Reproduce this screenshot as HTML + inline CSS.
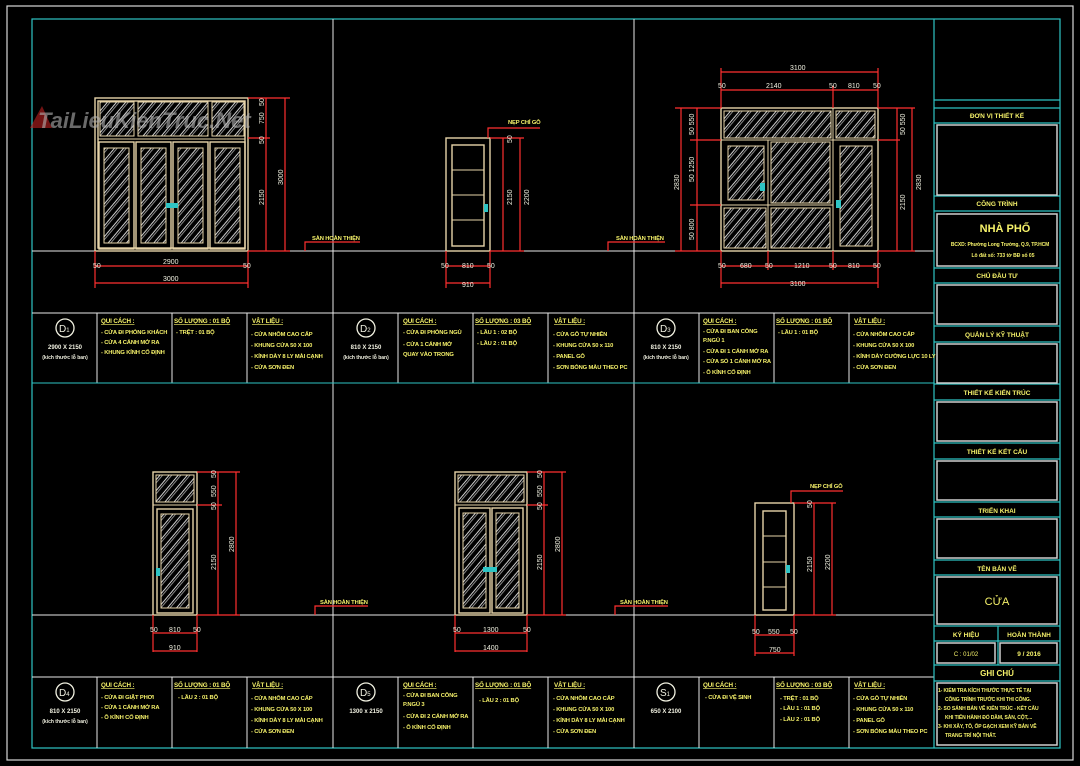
<!DOCTYPE html>
<html><head><meta charset="utf-8"><style>
html,body{margin:0;padding:0;background:#000;}
svg{display:block}
text{font-family:"Liberation Sans",sans-serif;}
.y{fill:#f6f26a;font-size:5.8px;font-weight:bold;letter-spacing:-0.15px}
.h{fill:#f6f26a;font-size:6.3px;font-weight:bold;text-decoration:underline;letter-spacing:-0.15px}
.w{fill:#f0f0e0;font-size:6px;font-weight:bold}
.d{fill:#f0f0e0;font-size:7px}
.t{fill:#f6f26a;font-size:6.5px;font-weight:bold;text-anchor:middle}
.fr{fill:none;stroke:#e6d3a8;stroke-width:1.4}
.g{fill:url(#hat);stroke:#e6d3a8;stroke-width:1}
.r{stroke:#ff3030;stroke-width:1.2;fill:none}
.c{stroke:#2ec4c4;stroke-width:1.2;fill:none}
.b{stroke:#cfcfcf;stroke-width:1.5;fill:none}
</style></head><body>
<svg width="1080" height="766" viewBox="0 0 1080 766" xmlns="http://www.w3.org/2000/svg">
<defs>
<pattern id="hat" width="7" height="7" patternUnits="userSpaceOnUse" patternTransform="rotate(40)">
<rect width="7" height="7" fill="#000"/><line x1="1" y1="0" x2="1" y2="7" stroke="#e8e8e8" stroke-width="0.9"/><line x1="3" y1="0" x2="3" y2="7" stroke="#e8e8e8" stroke-width="0.6"/>
</pattern>
</defs>
<rect width="1080" height="766" fill="#000"/>
<rect x="7" y="6" width="1066" height="754" fill="none" stroke="#d8d8d8" stroke-width="1.2"/>
<rect x="32" y="19" width="1028" height="729" fill="none" stroke="#2ec4c4" stroke-width="1.2"/>
<!-- grid -->
<g stroke="#e8e8e8" stroke-width="1">
<line x1="333" y1="19" x2="333" y2="748"/><line x1="634" y1="19" x2="634" y2="748"/>
<line x1="32" y1="251" x2="934" y2="251"/><line x1="32" y1="615" x2="934" y2="615"/>
<line x1="32" y1="313" x2="934" y2="313"/><line x1="32" y1="383" x2="934" y2="383"/>
<line x1="32" y1="677" x2="934" y2="677"/>
<line x1="97" y1="313" x2="97" y2="383"/><line x1="172" y1="313" x2="172" y2="383"/><line x1="247" y1="313" x2="247" y2="383"/>
<line x1="398" y1="313" x2="398" y2="383"/><line x1="473" y1="313" x2="473" y2="383"/><line x1="548" y1="313" x2="548" y2="383"/>
<line x1="699" y1="313" x2="699" y2="383"/><line x1="774" y1="313" x2="774" y2="383"/><line x1="849" y1="313" x2="849" y2="383"/>
<line x1="97" y1="677" x2="97" y2="748"/><line x1="172" y1="677" x2="172" y2="748"/><line x1="247" y1="677" x2="247" y2="748"/>
<line x1="398" y1="677" x2="398" y2="748"/><line x1="473" y1="677" x2="473" y2="748"/><line x1="548" y1="677" x2="548" y2="748"/>
<line x1="699" y1="677" x2="699" y2="748"/><line x1="774" y1="677" x2="774" y2="748"/><line x1="849" y1="677" x2="849" y2="748"/>
</g>
<line x1="934" y1="19" x2="934" y2="748" class="c"/>
<line x1="32" y1="383" x2="934" y2="383" stroke="#2ec4c4"/>

<!-- ===== D1 ===== -->
<rect x="95" y="98" width="153" height="153" class="fr"/>
<rect x="98" y="101" width="147" height="147" class="fr" stroke-width="0.8"/>
<rect x="100" y="102" width="34" height="34" class="g"/>
<rect x="138" y="102" width="70" height="34" class="g"/>
<rect x="212" y="102" width="32" height="34" class="g"/>
<line x1="98" y1="139" x2="245" y2="139" stroke="#e6d3a8"/>
<rect x="99" y="142" width="35" height="107" class="fr" stroke-width="1"/>
<rect x="136" y="142" width="35" height="107" class="fr" stroke-width="1"/>
<rect x="173" y="142" width="35" height="107" class="fr" stroke-width="1"/>
<rect x="210" y="142" width="35" height="107" class="fr" stroke-width="1"/>
<rect x="104" y="148" width="25" height="95" class="g"/>
<rect x="141" y="148" width="25" height="95" class="g"/>
<rect x="178" y="148" width="25" height="95" class="g"/>
<rect x="215" y="148" width="25" height="95" class="g"/>
<rect x="166" y="203" width="12" height="5" fill="#2ec4c4"/>
<g class="r">
<line x1="248" y1="98" x2="290" y2="98"/><line x1="248" y1="138" x2="270" y2="138"/><line x1="248" y1="251" x2="290" y2="251"/>
<line x1="266" y1="98" x2="266" y2="251"/><line x1="285" y1="98" x2="285" y2="251"/>
<line x1="95" y1="251" x2="95" y2="288"/><line x1="248" y1="251" x2="248" y2="288"/>
<line x1="95" y1="266" x2="248" y2="266"/><line x1="95" y1="283" x2="248" y2="283"/>
</g>
<text class="d" transform="translate(264 106) rotate(-90)">50</text>
<text class="d" transform="translate(264 124) rotate(-90)">750</text>
<text class="d" transform="translate(264 144) rotate(-90)">50</text>
<text class="d" transform="translate(264 205) rotate(-90)">2150</text>
<text class="d" transform="translate(283 185) rotate(-90)">3000</text>
<text class="d" x="93" y="268">50</text><text class="d" x="163" y="264">2900</text><text class="d" x="243" y="268">50</text>
<text class="d" x="163" y="281">3000</text>
<polyline points="305,251 305,242 360,242" class="r"/>
<text class="y" x="312" y="240">SÀN HOÀN THIỆN</text>

<!-- ===== D2 ===== -->
<rect x="446" y="138" width="44" height="113" class="fr"/>
<rect x="452" y="145" width="32" height="101" class="fr" stroke-width="1.2"/>
<line x1="452" y1="170" x2="484" y2="170" stroke="#e6d3a8"/><line x1="452" y1="195" x2="484" y2="195" stroke="#e6d3a8"/><line x1="452" y1="220" x2="484" y2="220" stroke="#e6d3a8"/>
<rect x="484" y="204" width="4" height="8" fill="#2ec4c4"/>
<g class="r">
<polyline points="488,138 488,128 540,128"/>
<line x1="490" y1="138" x2="524" y2="138"/><line x1="490" y1="251" x2="524" y2="251"/>
<line x1="503" y1="138" x2="503" y2="251"/><line x1="520" y1="138" x2="520" y2="251"/>
<line x1="446" y1="251" x2="446" y2="288"/><line x1="490" y1="251" x2="490" y2="288"/>
<line x1="446" y1="266" x2="490" y2="266"/><line x1="446" y1="283" x2="490" y2="283"/>
</g>
<text class="y" x="508" y="124">NẸP CHỈ GỖ</text>
<text class="d" transform="translate(512 143) rotate(-90)">50</text>
<text class="d" transform="translate(512 205) rotate(-90)">2150</text>
<text class="d" transform="translate(529 205) rotate(-90)">2200</text>
<text class="d" x="441" y="268">50</text><text class="d" x="462" y="268">810</text><text class="d" x="487" y="268">50</text>
<text class="d" x="462" y="287">910</text>
<polyline points="608,251 608,242 665,242" class="r"/>
<text class="y" x="616" y="240">SÀN HOÀN THIỆN</text>

<!-- ===== D3 ===== -->
<rect x="721" y="108" width="157" height="143" class="fr"/>
<rect x="724" y="111" width="107" height="27" class="g"/>
<rect x="836" y="111" width="39" height="27" class="g"/>
<line x1="833" y1="108" x2="833" y2="140" stroke="#e6d3a8"/>
<line x1="721" y1="140" x2="878" y2="140" stroke="#e6d3a8"/>
<line x1="768" y1="140" x2="768" y2="251" stroke="#e6d3a8"/><line x1="833" y1="140" x2="833" y2="251" stroke="#e6d3a8"/>
<line x1="721" y1="205" x2="833" y2="205" stroke="#e6d3a8"/>
<rect x="728" y="146" width="36" height="54" class="g"/>
<rect x="771" y="142" width="59" height="61" class="g"/>
<rect x="724" y="208" width="42" height="40" class="g"/>
<rect x="771" y="208" width="59" height="40" class="g"/>
<rect x="840" y="146" width="32" height="100" class="g"/>
<rect x="760" y="183" width="5" height="8" fill="#2ec4c4"/><rect x="836" y="200" width="5" height="8" fill="#2ec4c4"/>
<g class="r">
<line x1="721" y1="72" x2="878" y2="72"/><line x1="721" y1="90" x2="878" y2="90"/>
<line x1="721" y1="68" x2="721" y2="108"/><line x1="878" y1="68" x2="878" y2="108"/><line x1="833" y1="86" x2="833" y2="108"/>
<line x1="675" y1="108" x2="721" y2="108"/><line x1="690" y1="140" x2="721" y2="140"/><line x1="690" y1="205" x2="721" y2="205"/><line x1="675" y1="251" x2="721" y2="251"/>
<line x1="681" y1="108" x2="681" y2="251"/><line x1="697" y1="108" x2="697" y2="251"/>
<line x1="878" y1="108" x2="915" y2="108"/><line x1="878" y1="140" x2="900" y2="140"/><line x1="878" y1="251" x2="915" y2="251"/>
<line x1="897" y1="108" x2="897" y2="251"/><line x1="912" y1="108" x2="912" y2="251"/>
<line x1="721" y1="251" x2="721" y2="288"/><line x1="768" y1="251" x2="768" y2="270"/><line x1="833" y1="251" x2="833" y2="270"/><line x1="878" y1="251" x2="878" y2="288"/>
<line x1="721" y1="266" x2="878" y2="266"/><line x1="721" y1="283" x2="878" y2="283"/>
</g>
<text class="d" x="790" y="70">3100</text>
<text class="d" x="718" y="88">50</text><text class="d" x="766" y="88">2140</text><text class="d" x="829" y="88">50</text><text class="d" x="848" y="88">810</text><text class="d" x="873" y="88">50</text>
<text class="d" x="718" y="268">50</text><text class="d" x="740" y="268">680</text><text class="d" x="765" y="268">50</text><text class="d" x="794" y="268">1210</text><text class="d" x="829" y="268">50</text><text class="d" x="848" y="268">810</text><text class="d" x="873" y="268">50</text>
<text class="d" x="790" y="286">3100</text>
<text class="d" transform="translate(679 190) rotate(-90)">2830</text>
<text class="d" transform="translate(694 135) rotate(-90)">50 550</text>
<text class="d" transform="translate(694 182) rotate(-90)">50 1250</text>
<text class="d" transform="translate(694 240) rotate(-90)">50 800</text>
<text class="d" transform="translate(905 135) rotate(-90)">50 550</text>
<text class="d" transform="translate(905 210) rotate(-90)">2150</text>
<text class="d" transform="translate(921 190) rotate(-90)">2830</text>

<!-- ===== D4 ===== -->
<rect x="153" y="472" width="44" height="143" class="fr"/>
<rect x="156" y="475" width="38" height="27" class="g"/>
<line x1="153" y1="505" x2="197" y2="505" stroke="#e6d3a8"/>
<rect x="157" y="509" width="36" height="104" class="fr" stroke-width="1"/>
<rect x="161" y="514" width="28" height="94" class="g"/>
<rect x="156" y="568" width="4" height="8" fill="#2ec4c4"/>
<g class="r">
<line x1="197" y1="472" x2="240" y2="472"/><line x1="197" y1="505" x2="222" y2="505"/><line x1="197" y1="615" x2="240" y2="615"/>
<line x1="218" y1="472" x2="218" y2="615"/><line x1="236" y1="472" x2="236" y2="615"/>
<line x1="153" y1="615" x2="153" y2="652"/><line x1="197" y1="615" x2="197" y2="652"/>
<line x1="153" y1="633" x2="197" y2="633"/><line x1="153" y1="651" x2="197" y2="651"/>
</g>
<text class="d" transform="translate(216 478) rotate(-90)">50</text>
<text class="d" transform="translate(216 497) rotate(-90)">550</text>
<text class="d" transform="translate(216 510) rotate(-90)">50</text>
<text class="d" transform="translate(216 570) rotate(-90)">2150</text>
<text class="d" transform="translate(234 552) rotate(-90)">2800</text>
<text class="d" x="150" y="632">50</text><text class="d" x="169" y="632">810</text><text class="d" x="193" y="632">50</text>
<text class="d" x="169" y="650">910</text>
<polyline points="315,615 315,606 368,606" class="r"/>
<text class="y" x="320" y="604">SÀN HOÀN THIỆN</text>

<!-- ===== D5 ===== -->
<rect x="455" y="472" width="72" height="143" class="fr"/>
<rect x="458" y="475" width="66" height="27" class="g"/>
<line x1="455" y1="505" x2="527" y2="505" stroke="#e6d3a8"/>
<rect x="459" y="508" width="31" height="105" class="fr" stroke-width="1"/>
<rect x="492" y="508" width="31" height="105" class="fr" stroke-width="1"/>
<rect x="463" y="513" width="23" height="95" class="g"/>
<rect x="496" y="513" width="23" height="95" class="g"/>
<rect x="483" y="567" width="14" height="5" fill="#2ec4c4"/>
<g class="r">
<line x1="527" y1="472" x2="566" y2="472"/><line x1="527" y1="505" x2="548" y2="505"/><line x1="527" y1="615" x2="566" y2="615"/>
<line x1="544" y1="472" x2="544" y2="615"/><line x1="562" y1="472" x2="562" y2="615"/>
<line x1="455" y1="615" x2="455" y2="652"/><line x1="527" y1="615" x2="527" y2="652"/>
<line x1="455" y1="633" x2="527" y2="633"/><line x1="455" y1="651" x2="527" y2="651"/>
</g>
<text class="d" transform="translate(542 478) rotate(-90)">50</text>
<text class="d" transform="translate(542 497) rotate(-90)">550</text>
<text class="d" transform="translate(542 510) rotate(-90)">50</text>
<text class="d" transform="translate(542 570) rotate(-90)">2150</text>
<text class="d" transform="translate(560 552) rotate(-90)">2800</text>
<text class="d" x="453" y="632">50</text><text class="d" x="483" y="632">1300</text><text class="d" x="523" y="632">50</text>
<text class="d" x="483" y="650">1400</text>
<polyline points="615,615 615,606 668,606" class="r"/>
<text class="y" x="620" y="604">SÀN HOÀN THIỆN</text>

<!-- ===== S1 ===== -->
<rect x="755" y="503" width="39" height="112" class="fr"/>
<rect x="763" y="511" width="23" height="99" class="fr" stroke-width="1.2"/>
<line x1="763" y1="536" x2="786" y2="536" stroke="#e6d3a8"/><line x1="763" y1="562" x2="786" y2="562" stroke="#e6d3a8"/><line x1="763" y1="587" x2="786" y2="587" stroke="#e6d3a8"/>
<rect x="786" y="565" width="4" height="8" fill="#2ec4c4"/>
<g class="r">
<polyline points="791,503 791,491 843,491"/>
<line x1="794" y1="503" x2="836" y2="503"/><line x1="794" y1="615" x2="836" y2="615"/>
<line x1="814" y1="503" x2="814" y2="615"/><line x1="832" y1="503" x2="832" y2="615"/>
<line x1="755" y1="615" x2="755" y2="656"/><line x1="794" y1="615" x2="794" y2="656"/>
<line x1="755" y1="635" x2="794" y2="635"/><line x1="755" y1="653" x2="794" y2="653"/>
</g>
<text class="y" x="810" y="488">NẸP CHỈ GỖ</text>
<text class="d" transform="translate(812 508) rotate(-90)">50</text>
<text class="d" transform="translate(812 572) rotate(-90)">2150</text>
<text class="d" transform="translate(830 570) rotate(-90)">2200</text>
<text class="d" x="752" y="634">50</text><text class="d" x="768" y="634">550</text><text class="d" x="790" y="634">50</text>
<text class="d" x="769" y="652">750</text>

<!-- watermark -->
<path d="M30 128 L42 106 L52 128 Z" fill="#c02020" fill-opacity="0.6"/>
<text x="38" y="128" style="font-size:22px;font-style:italic;font-weight:bold" fill="#b0b0b0" fill-opacity="0.6">TaiLieuKienTruc.Net</text>

<!-- ===== tables ===== -->
<g fill="none" stroke="#f0f0e0" stroke-width="1.3">
<circle cx="65" cy="328" r="9"/><circle cx="366" cy="328" r="9"/><circle cx="666" cy="328" r="9"/>
<circle cx="65" cy="692" r="9"/><circle cx="366" cy="692" r="9"/><circle cx="666" cy="692" r="9"/>
</g>
<g fill="#f0f0e0" style="font-size:10px">
<text x="59" y="332">D<tspan style="font-size:6px">1</tspan></text><text x="360" y="332">D<tspan style="font-size:6px">2</tspan></text><text x="660" y="332">D<tspan style="font-size:6px">3</tspan></text>
<text x="59" y="696">D<tspan style="font-size:6px">4</tspan></text><text x="360" y="696">D<tspan style="font-size:6px">5</tspan></text><text x="660" y="696">S<tspan style="font-size:6px">1</tspan></text>
</g>
<g class="w" text-anchor="middle">
<text x="65" y="349">2900 X 2150</text><text x="65" y="359" style="font-size:5px">(kích thước lỗ ban)</text>
<text x="366" y="349">810 X 2150</text><text x="366" y="359" style="font-size:5px">(kích thước lỗ ban)</text>
<text x="666" y="349">810 X 2150</text><text x="666" y="359" style="font-size:5px">(kích thước lỗ ban)</text>
<text x="65" y="713">810 X 2150</text><text x="65" y="723" style="font-size:5px">(kích thước lỗ ban)</text>
<text x="366" y="713">1300 x 2150</text>
<text x="666" y="713">650 X 2100</text>
</g>

<text class="h" x="101" y="323">QUI CÁCH :</text>
<text class="y" x="101" y="334">- CỬA ĐI PHÒNG KHÁCH</text><text class="y" x="101" y="344">- CỬA 4 CÁNH MỞ RA</text><text class="y" x="101" y="354">- KHUNG KÍNH CỐ ĐỊNH</text>
<text class="h" x="174" y="323">SỐ LƯỢNG : 01 BỘ</text>
<text class="y" x="176" y="334">- TRỆT : 01 BỘ</text>
<text class="h" x="252" y="323">VẬT LIỆU :</text>
<text class="y" x="251" y="336">- CỬA NHÔM CAO CẤP</text><text class="y" x="251" y="347">- KHUNG CỬA 50 X 100</text><text class="y" x="251" y="358">- KÍNH DÀY 8 LY MÀI CẠNH</text><text class="y" x="251" y="369">- CỬA SƠN ĐEN</text>

<text class="h" x="403" y="323">QUI CÁCH :</text>
<text class="y" x="403" y="334">- CỬA ĐI PHÒNG NGỦ</text><text class="y" x="403" y="346">- CỬA 1 CÁNH MỞ</text><text class="y" x="403" y="356">QUAY VÀO TRONG</text>
<text class="h" x="475" y="323">SỐ LƯỢNG : 03 BỘ</text>
<text class="y" x="477" y="334">- LẦU 1 : 02 BỘ</text><text class="y" x="477" y="345">- LẦU 2 : 01 BỘ</text>
<text class="h" x="554" y="323">VẬT LIỆU :</text>
<text class="y" x="553" y="336">- CỬA GỖ TỰ NHIÊN</text><text class="y" x="553" y="347">- KHUNG CỬA 50 x 110</text><text class="y" x="553" y="358">- PANEL GỖ</text><text class="y" x="553" y="369">- SƠN BÓNG MÀU THEO PC</text>

<text class="h" x="703" y="323">QUI CÁCH :</text>
<text class="y" x="703" y="333">- CỬA ĐI BAN CÔNG</text><text class="y" x="703" y="342">P.NGỦ 1</text><text class="y" x="703" y="353">- CỬA ĐI 1 CÁNH MỞ RA</text><text class="y" x="703" y="363">- CỬA SỔ 1 CÁNH MỞ RA</text><text class="y" x="703" y="374">- Ô KÍNH CỐ ĐỊNH</text>
<text class="h" x="776" y="323">SỐ LƯỢNG : 01 BỘ</text>
<text class="y" x="778" y="334">- LẦU 1 : 01 BỘ</text>
<text class="h" x="854" y="323">VẬT LIỆU :</text>
<text class="y" x="853" y="336">- CỬA NHÔM CAO CẤP</text><text class="y" x="853" y="347">- KHUNG CỬA 50 X 100</text><text class="y" x="853" y="358">- KÍNH DÀY CƯỜNG LỰC 10 LY</text><text class="y" x="853" y="369">- CỬA SƠN ĐEN</text>

<text class="h" x="101" y="687">QUI CÁCH :</text>
<text class="y" x="101" y="699">- CỬA ĐI GIẶT PHƠI</text><text class="y" x="101" y="709">- CỬA 1 CÁNH MỞ RA</text><text class="y" x="101" y="719">- Ô KÍNH CỐ ĐỊNH</text>
<text class="h" x="174" y="687">SỐ LƯỢNG : 01 BỘ</text>
<text class="y" x="178" y="699">- LẦU 2 : 01 BỘ</text>
<text class="h" x="252" y="687">VẬT LIỆU :</text>
<text class="y" x="251" y="700">- CỬA NHÔM CAO CẤP</text><text class="y" x="251" y="711">- KHUNG CỬA 50 X 100</text><text class="y" x="251" y="722">- KÍNH DÀY 8 LY MÀI CẠNH</text><text class="y" x="251" y="733">- CỬA SƠN ĐEN</text>

<text class="h" x="403" y="687">QUI CÁCH :</text>
<text class="y" x="403" y="697">- CỬA ĐI BAN CÔNG</text><text class="y" x="403" y="706">P.NGỦ 3</text><text class="y" x="403" y="718">- CỬA ĐI 2 CÁNH MỞ RA</text><text class="y" x="403" y="729">- Ô KÍNH CỐ ĐỊNH</text>
<text class="h" x="475" y="687">SỐ LƯỢNG : 01 BỘ</text>
<text class="y" x="479" y="702">- LẦU 2 : 01 BỘ</text>
<text class="h" x="554" y="687">VẬT LIỆU :</text>
<text class="y" x="553" y="700">- CỬA NHÔM CAO CẤP</text><text class="y" x="553" y="711">- KHUNG CỬA 50 X 100</text><text class="y" x="553" y="722">- KÍNH DÀY 8 LY MÀI CẠNH</text><text class="y" x="553" y="733">- CỬA SƠN ĐEN</text>

<text class="h" x="703" y="687">QUI CÁCH :</text>
<text class="y" x="705" y="699">- CỬA ĐI VỆ SINH</text>
<text class="h" x="776" y="687">SỐ LƯỢNG : 03 BỘ</text>
<text class="y" x="780" y="700">- TRỆT : 01 BỘ</text><text class="y" x="780" y="710">- LẦU 1 : 01 BỘ</text><text class="y" x="780" y="721">- LẦU 2 : 01 BỘ</text>
<text class="h" x="854" y="687">VẬT LIỆU :</text>
<text class="y" x="853" y="700">- CỬA GỖ TỰ NHIÊN</text><text class="y" x="853" y="711">- KHUNG CỬA 50 x 110</text><text class="y" x="853" y="722">- PANEL GỖ</text><text class="y" x="853" y="733">- SƠN BÓNG MÀU THEO PC</text>

<!-- ===== title block ===== -->
<g class="c">
<line x1="934" y1="100" x2="1060" y2="100"/>
<line x1="934" y1="108" x2="1060" y2="108"/><line x1="934" y1="123" x2="1060" y2="123"/>
<line x1="934" y1="196" x2="1060" y2="196"/><line x1="934" y1="211" x2="1060" y2="211"/>
<line x1="934" y1="268" x2="1060" y2="268"/><line x1="934" y1="283" x2="1060" y2="283"/>
<line x1="934" y1="326" x2="1060" y2="326"/><line x1="934" y1="342" x2="1060" y2="342"/>
<line x1="934" y1="384" x2="1060" y2="384"/><line x1="934" y1="400" x2="1060" y2="400"/>
<line x1="934" y1="443" x2="1060" y2="443"/><line x1="934" y1="459" x2="1060" y2="459"/>
<line x1="934" y1="502" x2="1060" y2="502"/><line x1="934" y1="517" x2="1060" y2="517"/>
<line x1="934" y1="560" x2="1060" y2="560"/><line x1="934" y1="575" x2="1060" y2="575"/>
<line x1="934" y1="626" x2="1060" y2="626"/><line x1="934" y1="641" x2="1060" y2="641"/>
<line x1="934" y1="665" x2="1060" y2="665"/><line x1="934" y1="681" x2="1060" y2="681"/>
<line x1="998" y1="626" x2="998" y2="665"/>
</g>
<g class="b">
<rect x="937" y="125" width="120" height="70"/>
<rect x="937" y="214" width="120" height="52"/>
<rect x="937" y="285" width="120" height="39"/>
<rect x="937" y="344" width="120" height="39"/>
<rect x="937" y="402" width="120" height="39"/>
<rect x="937" y="461" width="120" height="39"/>
<rect x="937" y="519" width="120" height="39"/>
<rect x="937" y="577" width="120" height="47"/>
<rect x="937" y="643" width="58" height="20"/>
<rect x="1000" y="643" width="57" height="20"/>
<rect x="937" y="683" width="120" height="62"/>
</g>
<text class="t" x="997" y="118">ĐƠN VỊ THIẾT KẾ</text>
<text class="t" x="997" y="206">CÔNG TRÌNH</text>
<text class="t" x="1005" y="232" style="font-size:11px">NHÀ PHỐ</text>
<text class="t" x="1000" y="246" style="font-size:5px;letter-spacing:-0.1px">BCXD:  Phường Long Trường, Q.9, TP.HCM</text>
<text class="t" x="1003" y="257" style="font-size:5px">Lô đất số: 733 tờ BĐ số 05</text>
<text class="t" x="997" y="278">CHỦ ĐẦU TƯ</text>
<text class="t" x="997" y="337">QUẢN LÝ KỸ THUẬT</text>
<text class="t" x="997" y="395">THIẾT KẾ KIẾN TRÚC</text>
<text class="t" x="997" y="454">THIẾT KẾ KẾT CẤU</text>
<text class="t" x="997" y="513">TRIỂN KHAI</text>
<text class="t" x="997" y="571">TÊN BẢN VẼ</text>
<text class="t" x="997" y="605" style="font-size:11px;font-weight:normal">CỬA</text>
<text class="t" x="966" y="637">KÝ HIỆU</text>
<text class="t" x="1029" y="637">HOÀN THÀNH</text>
<text class="t" x="966" y="656" style="font-weight:normal;font-size:6px">C : 01/02</text>
<text class="t" x="1029" y="656">9 / 2016</text>
<text class="t" x="997" y="676" style="font-size:8px">GHI CHÚ</text>
<g class="y" style="font-size:5px;letter-spacing:-0.1px">
<text x="938" y="692">1- KIỂM TRA KÍCH THƯỚC THỰC TẾ TẠI</text>
<text x="945" y="701">CÔNG TRÌNH TRƯỚC KHI THI CÔNG.</text>
<text x="938" y="710">2- SO SÁNH BẢN VẼ KIẾN TRÚC - KẾT CẤU</text>
<text x="945" y="719">KHI TIẾN HÀNH ĐỔ DẦM, SÀN, CỘT,...</text>
<text x="938" y="728">3- KHI XÂY, TÔ, ỐP GẠCH XEM KỸ BẢN VẼ</text>
<text x="945" y="737">TRANG TRÍ NỘI THẤT.</text>
</g>
</svg>
</body></html>
